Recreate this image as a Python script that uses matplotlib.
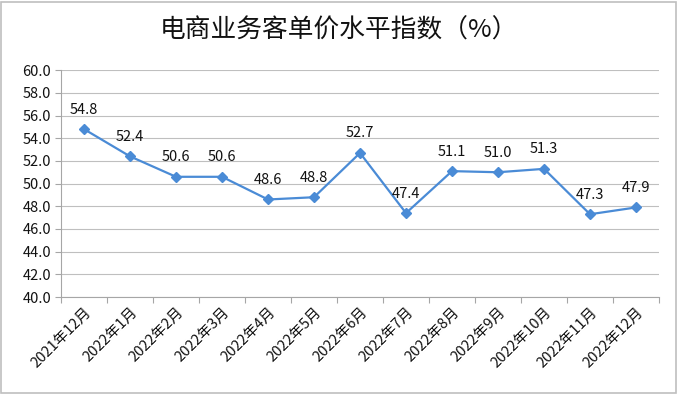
import matplotlib.pyplot as plt
from matplotlib.patches import Rectangle

plt.rcParams['font.family'] = ['Noto Sans CJK SC', 'DejaVu Sans']

months = ['2021年12月', '2022年1月', '2022年2月', '2022年3月', '2022年4月', '2022年5月',
          '2022年6月', '2022年7月', '2022年8月', '2022年9月', '2022年10月', '2022年11月', '2022年12月']
values = [54.8, 52.4, 50.6, 50.6, 48.6, 48.8, 52.7, 47.4, 51.1, 51.0, 51.3, 47.3, 47.9]
yticks = [40 + 2 * i for i in range(11)]

def main():
	fig = plt.figure(figsize=(6.78, 3.94), dpi=100)
	ax = fig.add_axes([0.090, 0.246, 0.882, 0.576])

	x = list(range(len(values)))
	ax.plot(x, values, color='#4A8BD6', linewidth=1.6, marker='D', markersize=5.5,
			markerfacecolor='#4A8BD6', markeredgecolor='#4A8BD6')

	for xi, v in zip(x, values):
		ax.annotate('%.1f' % v, (xi, v), xytext=(0, 9), textcoords='offset points',
					ha='center', va='bottom', fontsize=10.5, color='#111111')

	ax.set_xlim(-0.5, len(values) - 0.5)
	ax.set_ylim(40, 60)
	ax.set_yticks(yticks)
	ax.set_yticklabels(['%.1f' % t for t in yticks], fontsize=10.5, color='#111111')
	ax.yaxis.grid(True, color='#BFBFBF', linewidth=0.8)
	ax.set_axisbelow(True)

	# ticks between categories, labels at the centres
	ax.set_xticks([i - 0.5 for i in range(len(values) + 1)])
	ax.set_xticklabels([])
	ax.set_xticks(x, minor=True)
	ax.set_xticklabels(months, minor=True, rotation=45, ha='right',
					   rotation_mode='anchor', fontsize=10.5, color='#111111')
	ax.tick_params(axis='x', which='major', length=4, color='#A6A6A6')
	ax.tick_params(axis='x', which='minor', length=0, pad=6)
	ax.tick_params(axis='y', length=4, color='#A6A6A6', pad=3)

	for s in ['top', 'right']:
		ax.spines[s].set_visible(False)
	for s in ['left', 'bottom']:
		ax.spines[s].set_color('#A6A6A6')

	fig.text(0.5, 0.922, '电商业务客单价水平指数（%）', ha='center', va='center',
			 fontsize=18.5, fontweight='medium', color='#111111')

	fig.patches.append(Rectangle((0.002, 0.003), 0.995, 0.993, transform=fig.transFigure,
								 fill=False, edgecolor='#BFBFBF', linewidth=1.2))

	fig.savefig('out.png', dpi=100)


if __name__ == '__main__':
	main()
